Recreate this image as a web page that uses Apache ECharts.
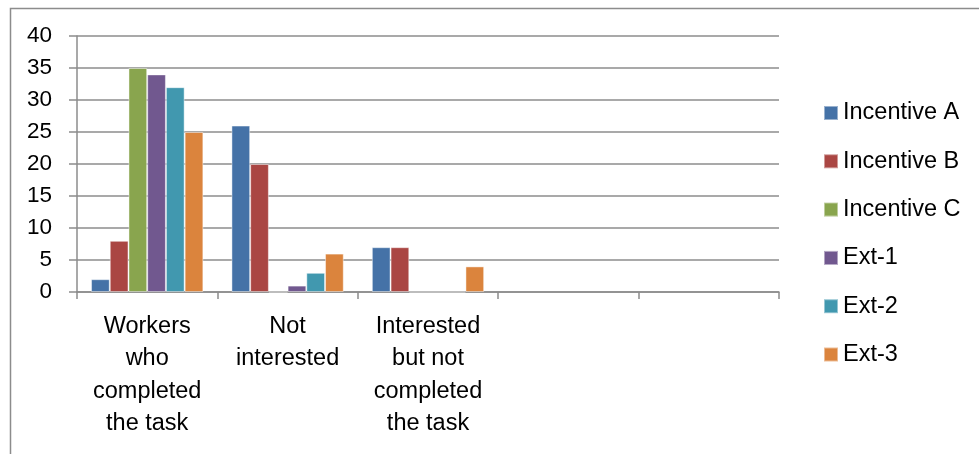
<!DOCTYPE html>
<html>
<head>
<meta charset="utf-8">
<script src="https://cdn.jsdelivr.net/npm/echarts@6/dist/echarts.min.js"></script>
<style>html,body{margin:0;padding:0;background:#fff;}#c{width:979px;height:454px;}</style>
</head>
<body>
<div id="c"></div>
<script>
const categories = ['Workers\nwho\ncompleted\nthe task', 'Not\ninterested', 'Interested\nbut not\ncompleted\nthe task', ' ', '  '];
const seriesNames = ['Incentive A', 'Incentive B', 'Incentive C', 'Ext-1', 'Ext-2', 'Ext-3'];
const incentiveA = [2, 26, 7, null, null];
const incentiveB = [8, 20, 7, null, null];
const incentiveC = [35, 0, 0, null, null];
const ext1 = [34, 1, 0, null, null];
const ext2 = [32, 3, 0, null, null];
const ext3 = [25, 6, 4, null, null];
const yTicks = [0, 5, 10, 15, 20, 25, 30, 35, 40];
const colors = ['#4572A7', '#AA4643', '#89A54E', '#71588F', '#4198AF', '#DB843D'];

const values = [incentiveA, incentiveB, incentiveC, ext1, ext2, ext3];
const font = 'Liberation Sans, Arial, sans-serif';
const chart = echarts.init(document.getElementById('c'), null, {renderer: 'canvas'});
chart.setOption({
  animation: false,
  color: colors,
  graphic: [{
    type: 'rect', left: 8, top: 6, silent: true,
    shape: {x: 0, y: 0, width: 1000, height: 500},
    style: {fill: 'none', stroke: '#8c8c8c', lineWidth: 1.5}
  }],
  grid: {left: 77, right: 200, top: 36, bottom: 162, containLabel: false},
  legend: {
    orient: 'vertical', left: 818, top: 96,
    itemWidth: 14, itemHeight: 14, itemGap: 24.3,
    icon: 'rect',
    textStyle: {fontFamily: font, fontSize: 23.5, color: '#000', lineHeight: 24},
    data: seriesNames
  },
  xAxis: {
    type: 'category', data: categories,
    axisLine: {lineStyle: {color: '#8c8c8c', width: 1.5}},
    axisTick: {show: true, length: 7, lineStyle: {color: '#8c8c8c', width: 1.5}},
    axisLabel: {fontFamily: font, fontSize: 23.5, color: '#000', lineHeight: 32.5, margin: 18, interval: 0, align: 'center'},
    splitLine: {show: false}
  },
  yAxis: {
    type: 'value', min: 0, max: 40, interval: 5,
    axisLine: {show: true, lineStyle: {color: '#8c8c8c', width: 1.5}},
    axisTick: {show: true, length: 8, lineStyle: {color: '#8c8c8c', width: 1.5}},
    axisLabel: {fontFamily: font, fontSize: 22.5, color: '#000', margin: 25,
      formatter: v => yTicks.includes(v) ? String(v) : ''},
    splitLine: {show: true, lineStyle: {color: '#8c8c8c', width: 1.5}}
  },
  series: seriesNames.map((n, i) => ({
    name: n, type: 'bar', data: values[i],
    barGap: '0%', barCategoryGap: '20%',
    itemStyle: {color: colors[i], borderColor: 'rgba(255,255,255,0.45)', borderWidth: 1}
  }))
});
</script>
</body>
</html>
